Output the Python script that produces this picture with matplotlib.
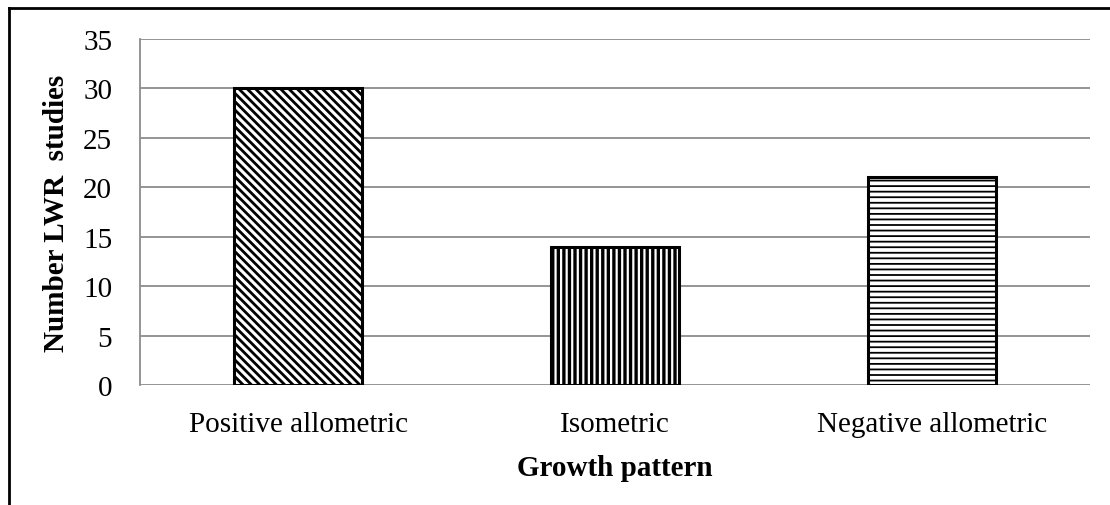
import matplotlib.pyplot as plt
from matplotlib.lines import Line2D

# Datos
categorias = ["Positive allometric", "Isometric", "Negative allometric"]
estudios = [30, 14, 21]
tramas = ["\\\\\\\\", "|||", "---"]
grosor_trama = [2.0, 2.4, 1.3]

plt.rcParams['font.family'] = ['Liberation Serif', 'DejaVu Serif']
plt.rcParams['hatch.color'] = 'black'
plt.rcParams['hatch.linewidth'] = 2.0

fig = plt.figure(figsize=(11.1, 5.06), dpi=100)
ax = fig.add_axes([140 / 1110, 1 - 386 / 506, 950 / 1110, 346 / 506])

x = range(len(categorias))
barras = ax.bar(x, estudios, width=0.405, color='white', edgecolor='black',
                linewidth=2.2, zorder=3)
for b, h, g in zip(barras, tramas, grosor_trama):
    b.set_hatch(h)
    if hasattr(b, 'set_hatch_linewidth'):
        b.set_hatch_linewidth(g)

ax.set_xlim(-0.5, 2.5)
ax.set_ylim(0, 35)
ax.set_yticks(range(0, 36, 5))
ax.set_xticks(list(x))
ax.set_xticklabels(categorias)
ax.tick_params(axis='both', length=0, labelsize=21)
ax.tick_params(axis='y', pad=20)
ax.tick_params(axis='x', pad=19)

# Rejilla gris
ax.grid(axis='y', color='#8c8c8c', linewidth=1.3, zorder=0)
for s in ['top', 'right', 'bottom']:
    ax.spines[s].set_visible(False)
ax.spines['left'].set_color('#8c8c8c')
ax.spines['left'].set_linewidth(1.3)

ax.set_xlabel("Growth pattern", fontsize=21, fontweight='bold', labelpad=12)
ax.set_ylabel("Number LWR  studies", fontsize=21, fontweight='bold', labelpad=9)

# Marco exterior (solo arriba e izquierda visibles)
fig.add_artist(Line2D([9 / 1110, 1], [1 - 9 / 506, 1 - 9 / 506],
                      transform=fig.transFigure, color='black', linewidth=2))
fig.add_artist(Line2D([9 / 1110, 9 / 1110], [0, 1 - 9 / 506],
                      transform=fig.transFigure, color='black', linewidth=2))

fig.savefig("out.png", dpi=100)
